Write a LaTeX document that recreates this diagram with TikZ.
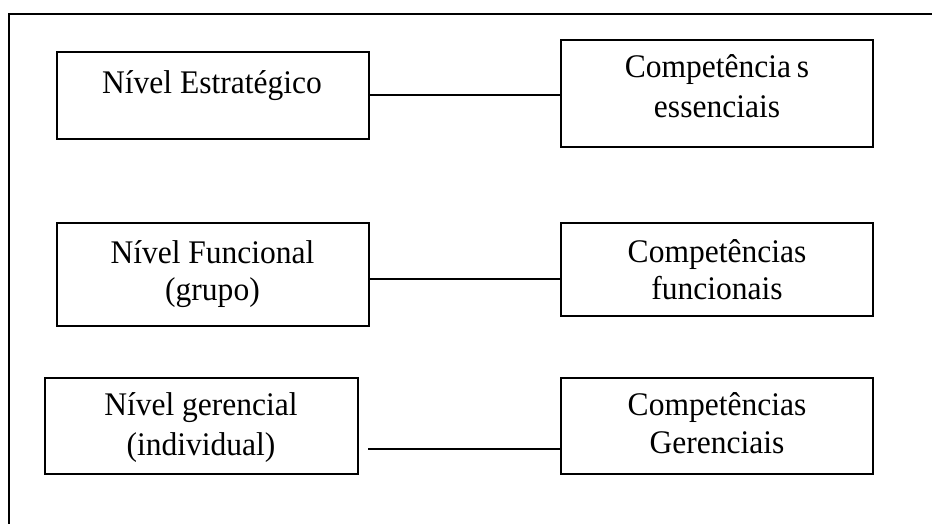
\documentclass[tikz,border=0pt]{standalone}
\usepackage{fontspec}
\setmainfont{Liberation Serif}[FakeStretch=0.955]
\begin{document}
\begin{tikzpicture}[x=1pt,y=-1pt,
  frame/.style={line width=1.3pt},
  box/.style={draw, line width=1.2pt, rectangle, inner sep=0pt, minimum width=312pt},
  conn/.style={line width=1.2pt},
  lbl/.style={anchor=base, align=center, inner sep=0pt, font=\fontsize{33}{#1}\selectfont},
  lbl/.default=38
]
\useasboundingbox (0,0) rectangle (932,524);
% outer frame (cut off at right and bottom)
\draw[frame] (9,524) -- (9,14) -- (932,14);
% boxes
\node[box, minimum height=87pt]  (a) at (213,95.5)  {};
\node[box, minimum height=107pt] (b) at (717,93.5)  {};
\node[box, minimum height=103pt] (c) at (213,274.5) {};
\node[box, minimum height=93pt]  (d) at (717,269.5) {};
\node[box, minimum width=313pt, minimum height=96pt] (e) at (201.5,426) {};
\node[box, minimum height=96pt]  (f) at (717,426)   {};
% labels (anchor=base: baseline of the last line)
\node[lbl] (ta) at (212,94)  {Nível Estratégico};
\node[lbl=40] (tb) at (717,118)  {Competência{\spaceskip=0.17em\relax{} s}\\essenciais};
\node[lbl=37] (tc) at (212.5,300) {Nível Funcional\\(grupo)};
\node[lbl=37] (td) at (717,299) {Competências\\funcionais};
\node[lbl=40] (te) at (201,455) {Nível gerencial\\(individual)};
\node[lbl=38] (tf) at (717,453) {Competências\\Gerenciais};
% connectors
\draw[conn] (a.east |- 0,95) -- (b.west |- 0,95);
\draw[conn] (c.east |- 0,279) -- (d.west |- 0,279);
\coordinate (e3) at (368,449);
\draw[conn] (e3) -- (f.west |- e3);
\end{tikzpicture}
\end{document}
